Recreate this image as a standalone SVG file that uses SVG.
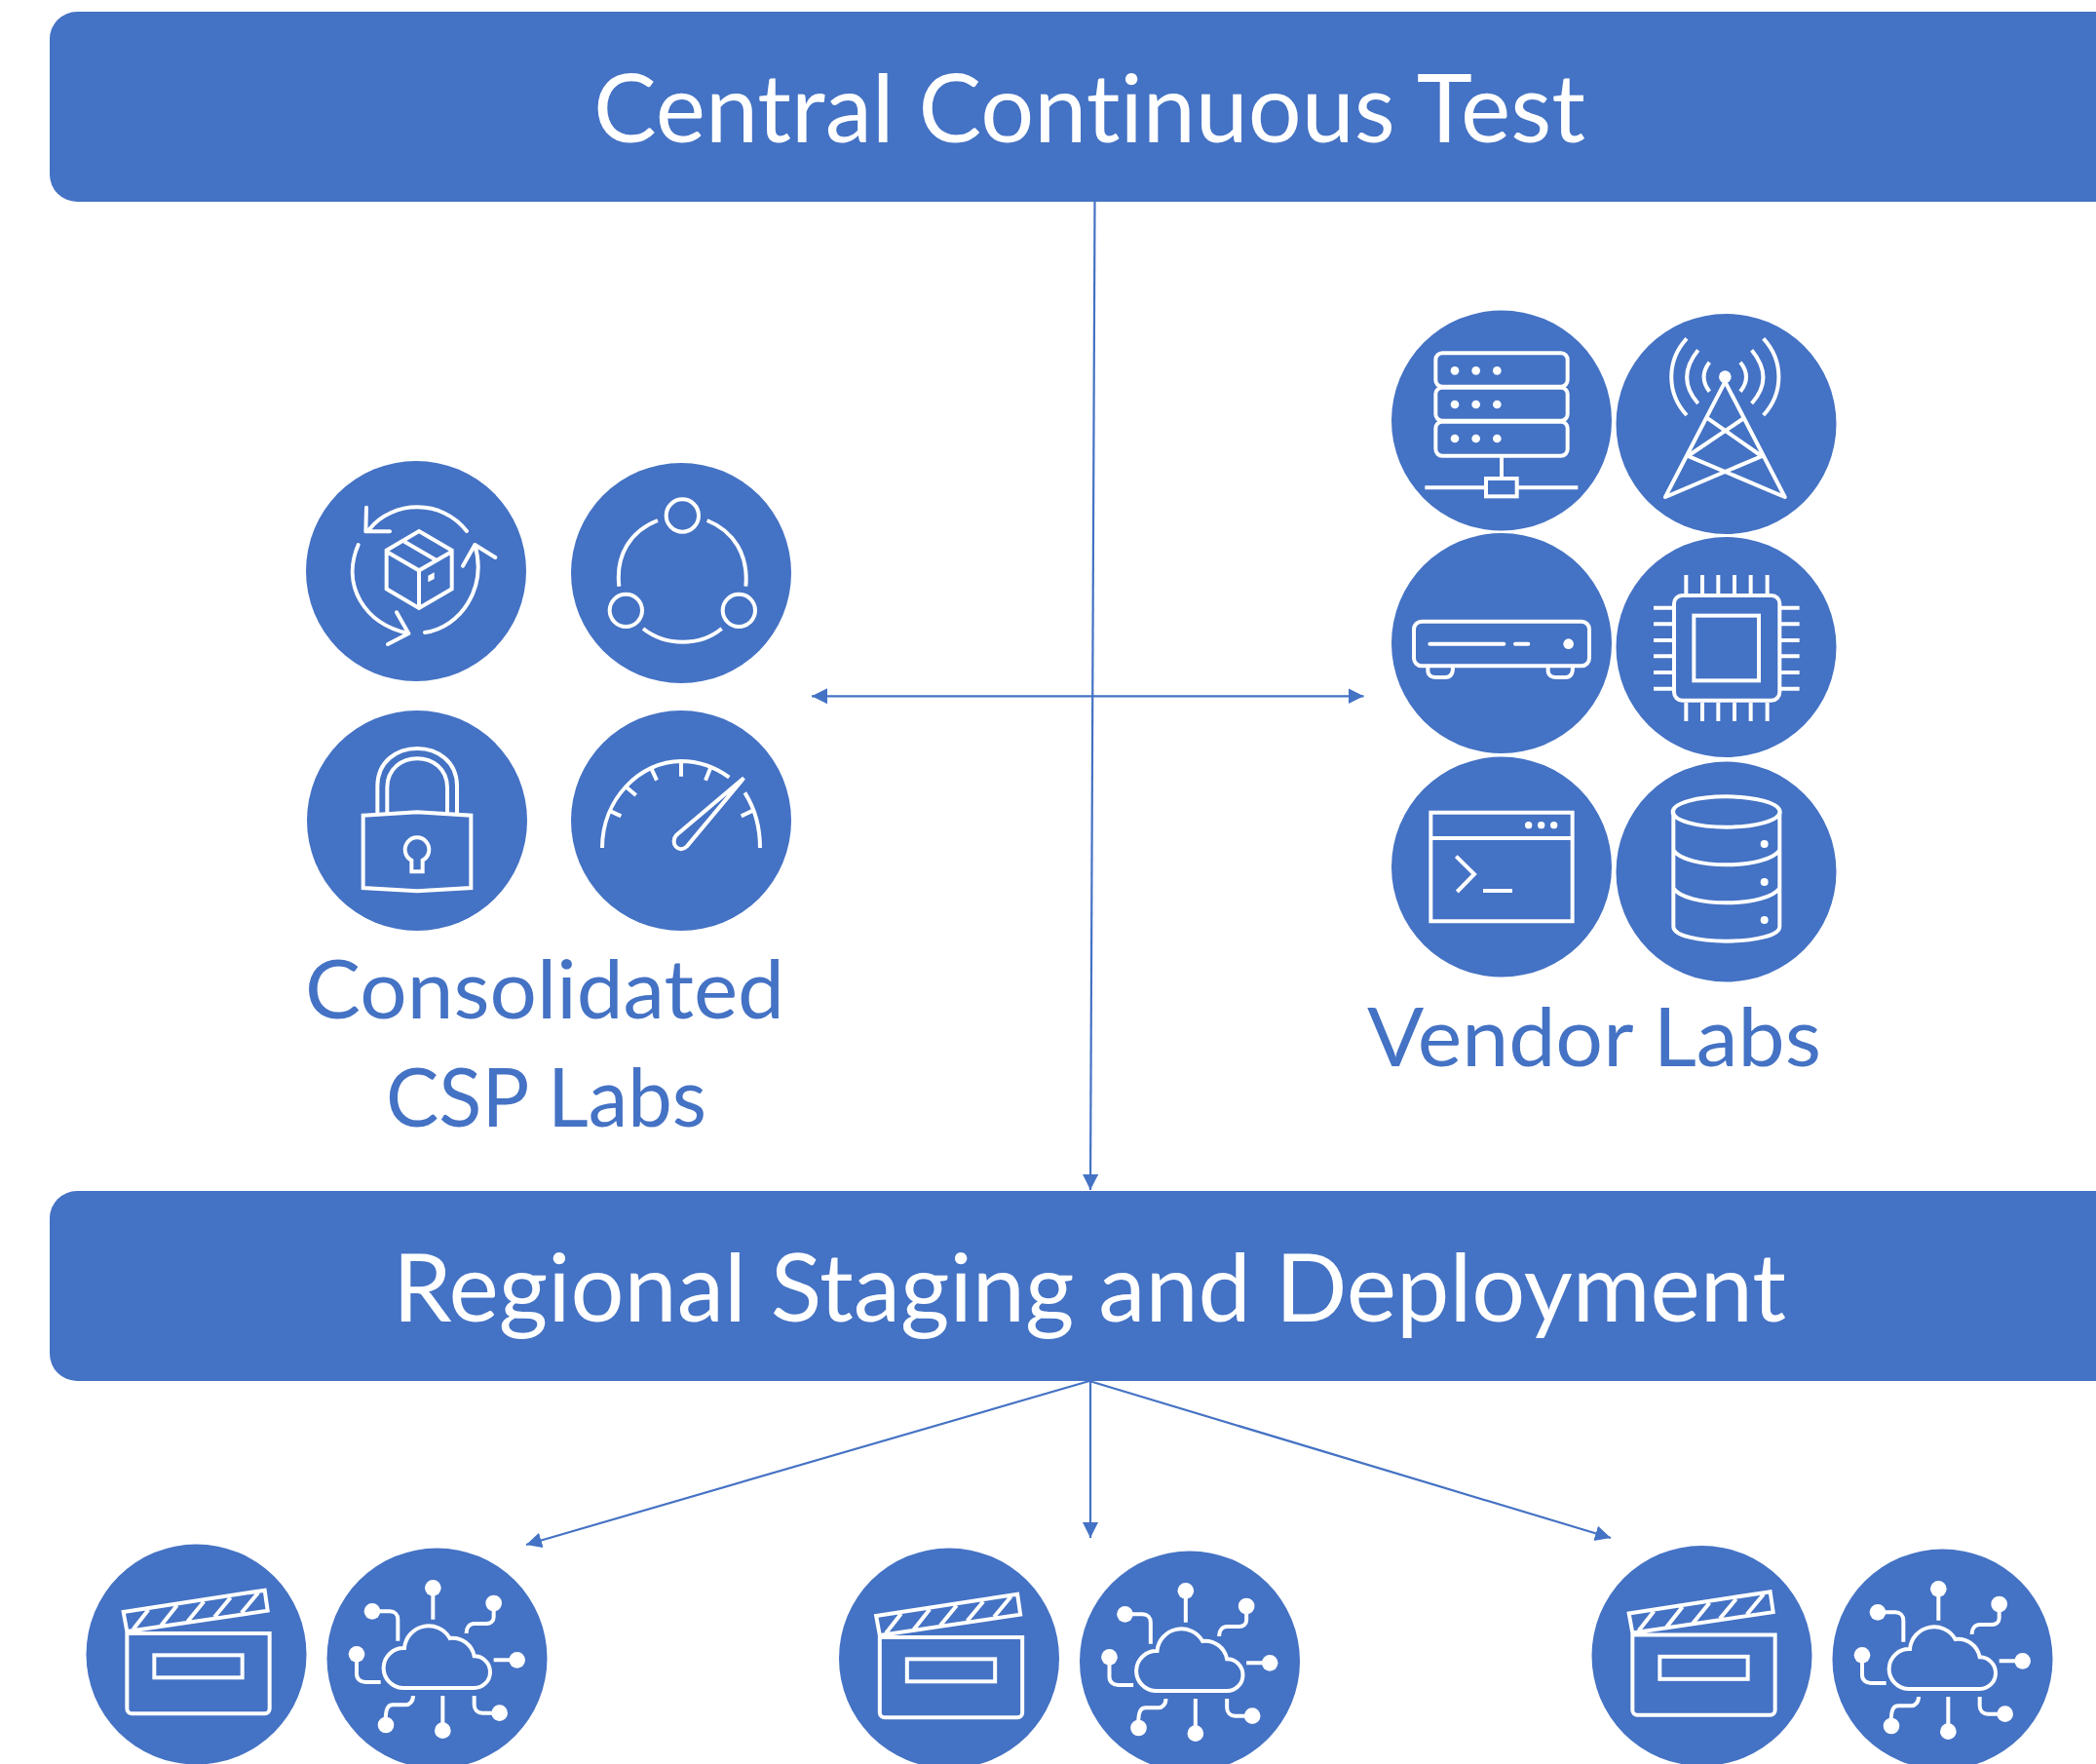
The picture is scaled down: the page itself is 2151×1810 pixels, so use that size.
<svg xmlns="http://www.w3.org/2000/svg" width="2151" height="1810" viewBox="0 0 2151 1810">
<style>
.bar{fill:#4472C4}
.c{fill:#4472C4}
.i{fill:none;stroke:#fff;stroke-width:12;stroke-linecap:butt;stroke-linejoin:miter}
.r{stroke-linecap:round;stroke-linejoin:round}
.w{fill:#fff;stroke:none}
.t{font-family:Lato,"Liberation Sans",sans-serif;font-variant-ligatures:none}
.bt{font-size:96px;fill:#fff}
.lb{font-size:84px;fill:#4472C4}
.ln{fill:none;stroke:#4472C4;stroke-width:2.2}
</style>
<defs>
<marker id="a" markerUnits="userSpaceOnUse" markerWidth="18" markerHeight="18" refX="16" refY="8" orient="auto-start-reverse"><path d="M0,0L16,8L0,16Z" fill="#4472C4"/></marker>
<g id="clap"><g transform="scale(.33333)">
<path class="i" d="M170,252L605,185L614,248L181,312ZM200,305L247,245M285,295L335,232M367,282L418,220M450,268L500,208M533,255L585,193M181,318H620V550a15,15 0 0 1 -15,15H196a15,15 0 0 1 -15,-15Z"/>
<rect class="i" x="265" y="385" width="271" height="69"/></g></g>
<g id="cloud"><g transform="scale(.33333)">
<path class="i" d="M1035,360A75,75 0 0 1 1175,330A68,68 0 0 1 1250,385A49,49 0 0 1 1250,483H1030A61.500,61.500 0 0 1 1035,360ZM1123,180V272M950,247H990C1005,247 1015,257 1015,272V338M1310,230V265C1310,278 1300,285 1288,285H1250C1235,285 1225,298 1226,315M1310,397H1370M888,390V440C888,455 900,465 915,465H962M1250,507V535C1250,550 1260,560 1275,560H1315M1153,507V600M1062,507C1062,525 1050,535 1040,535H1000C985,535 977,545 977,585"/>
<g class="w"><circle cx="1123" cy="175" r="25"/><circle cx="936" cy="247" r="25"/><circle cx="1310" cy="222" r="25"/><circle cx="1382" cy="397" r="25"/><circle cx="888" cy="379" r="25"/><circle cx="1328" cy="560" r="25"/><circle cx="1153" cy="614" r="25"/><circle cx="978" cy="597" r="25"/></g></g></g>
</defs>

<g id="bar-central"><rect class="bar" x="51" y="12" width="2140" height="195" rx="28"/><text class="t bt" x="609" y="146" textLength="1018" lengthAdjust="spacingAndGlyphs">Central Continuous Test</text></g>
<g id="bar-regional"><rect class="bar" x="51" y="1222" width="2140" height="195" rx="28"/><text class="t bt" x="403" y="1356" textLength="1430" lengthAdjust="spacingAndGlyphs">Regional Staging and Deployment</text></g>

<g id="connectors">
<path class="ln" d="M1123.5,207L1119,1221" marker-end="url(#a)"/>
<path class="ln" d="M833,714.3H1399.5" marker-start="url(#a)" marker-end="url(#a)"/>
<path class="ln" d="M1118,1417L540,1585" marker-end="url(#a)"/>
<path class="ln" d="M1119,1417V1578" marker-end="url(#a)"/>
<path class="ln" d="M1118,1417L1653,1578" marker-end="url(#a)"/>
</g>

<g id="csp-cycle"><circle class="c" cx="427" cy="586" r="113"/><g transform="translate(300,460) scale(.33333)">
<path class="i r" d="M238,248C310,160 460,155 537,255M228,182L226,256H300M562,297C600,430 520,550 408,567M525,362L562,297L625,336M203,297C150,420 220,540 358,570M321,505L358,570L294,603"/>
<path class="i" d="M390,255L491,314V433L390,492L290,433V314ZM290,318L390,376L491,318M390,376V492M345,287L443,344"/><path class="w" d="M418,392L437,382V402L418,412Z"/></g></g>
<g id="csp-share"><circle class="c" cx="699" cy="588" r="113"/><g transform="translate(300,460) scale(.33333)">
<circle class="i" cx="1201" cy="207" r="50"/><circle class="i" cx="1027" cy="499" r="50"/><circle class="i" cx="1375" cy="499" r="50"/>
<path class="i" d="M1125,222C1040,255 995,330 1006,425M1277,222C1360,255 1405,330 1396,425M1080,555C1150,610 1255,610 1322,555"/></g></g>
<g id="csp-lock"><circle class="c" cx="428" cy="842" r="113"/><g transform="translate(300,460) scale(.33333)">
<path class="i" d="M262,1122V1040C262,885 507,885 507,1040V1125M292,1120V1045C292,925 477,925 477,1045V1120M218,1130L384,1120L550,1130V1353L384,1363L218,1353ZM367,1268A37,37 0 1 1 401,1268V1303H367Z"/></g></g>
<g id="csp-gauge"><circle class="c" cx="699" cy="842" r="113"/><g transform="translate(300,460) scale(.33333)">
<path class="i" d="M954,1230C954,1080 1070,963 1197,963C1250,963 1300,980 1345,1013M1393,1060C1425,1110 1440,1165 1440,1230M975,1115L1012,1132M1025,1040L1058,1068M1105,985L1122,1022M1197,965V1010M1287,985L1272,1022M1418,1115L1382,1132M1390,1015L1183,1190C1160,1215 1190,1250 1215,1225Z"/></g></g>
<g id="label-csp"><text class="t lb" x="313" y="1045" textLength="492" lengthAdjust="spacingAndGlyphs">Consolidated</text><text class="t lb" x="396" y="1156" textLength="329" lengthAdjust="spacingAndGlyphs">CSP Labs</text></g>

<g id="vendor-server"><circle class="c" cx="1541" cy="431.500" r="113"/><g transform="translate(1410,310) scale(.33333)">
<rect class="i" x="190" y="157" width="406" height="103" rx="20"/><rect class="i" x="190" y="263" width="406" height="102" rx="20"/><rect class="i" x="190" y="368" width="406" height="105" rx="20"/>
<g class="w"><circle cx="249" cy="211" r="13"/><circle cx="314" cy="211" r="13"/><circle cx="379" cy="211" r="13"/><circle cx="249" cy="315" r="13"/><circle cx="314" cy="315" r="13"/><circle cx="379" cy="315" r="13"/><circle cx="249" cy="420" r="13"/><circle cx="314" cy="420" r="13"/><circle cx="379" cy="420" r="13"/></g>
<path class="i" d="M393,473V545M157,571H345M440,571H628"/><rect class="i" x="345" y="543" width="95" height="55"/></g></g>
<g id="vendor-tower"><circle class="c" cx="1771.500" cy="435" r="113"/><g transform="translate(1410,310) scale(.33333)">
<circle class="w" cx="1081" cy="230" r="19"/>
<path class="i r" d="M1081,245L897,600L1192,475M1081,245L1265,600L970,475M975,468L1135,360M1185,468L1028,358"/>
<path class="i" d="M1033,185C1010,215 1010,245 1033,275M1128,185C1152,215 1152,245 1128,275M998,148C952,205 952,260 998,312M1163,148C1210,205 1210,260 1163,312M963,112C900,180 900,280 963,348M1199,112C1262,180 1262,280 1199,348"/></g></g>
<g id="vendor-router"><circle class="c" cx="1541" cy="660" r="113"/><g transform="translate(1410,310) scale(.33333)">
<rect class="i" x="123" y="983" width="540" height="137" rx="24"/><path class="i r" d="M172,1052H400M435,1052H475"/><circle class="w" cx="599" cy="1052" r="16"/>
<path class="i" d="M166,1125V1135C166,1150 180,1155 190,1155H220C235,1155 243,1145 243,1125M536,1125V1135C536,1150 550,1155 560,1155H590C605,1155 612,1145 612,1125"/></g></g>
<g id="vendor-chip"><circle class="c" cx="1771.500" cy="664" r="113"/><g transform="translate(1410,310) scale(.33333)">
<rect class="i" x="924" y="903" width="325" height="323" rx="25"/><rect class="i" x="985" y="965" width="200" height="200"/>
<path class="i" d="M961,840V900M1011,840V900M1060,840V900M1110,840V900M1160,840V900M1211,840V900M961,1232V1290M1011,1232V1290M1060,1232V1290M1110,1232V1290M1160,1232V1290M1211,1232V1290M861,941H920M861,991H920M861,1041H920M861,1090H920M861,1140H920M861,1190H920M1253,941H1310M1253,991H1310M1253,1041H1310M1253,1090H1310M1253,1140H1310M1253,1190H1310"/></g></g>
<g id="vendor-terminal"><circle class="c" cx="1541" cy="889.500" r="113"/><g transform="translate(1410,770) scale(.33333)">
<path class="i" d="M175,191H611V526H175ZM175,270H611M253,326L309,381L256,435M336,432H426"/>
<g class="w"><circle cx="476" cy="230" r="11"/><circle cx="515" cy="230" r="11"/><circle cx="554" cy="230" r="11"/></g></g></g>
<g id="vendor-db"><circle class="c" cx="1771.500" cy="894.500" r="113"/><g transform="translate(1410,770) scale(.33333)">
<ellipse class="i" cx="1085" cy="189" rx="165" ry="47"/>
<path class="i" d="M922,189V542C922,570 1000,587 1085,587C1170,587 1249,570 1249,542V189M922,307C940,335 1010,352 1085,352C1160,352 1230,335 1249,307M922,424C940,452 1010,469 1085,469C1160,469 1230,452 1249,424"/>
<g class="w"><circle cx="1202" cy="288" r="12"/><circle cx="1202" cy="405" r="12"/><circle cx="1202" cy="522" r="12"/></g></g></g>
<g id="label-vendor"><text class="t lb" x="1403" y="1094" textLength="466" lengthAdjust="spacingAndGlyphs">Vendor Labs</text></g>

<g id="region-1-clapper"><circle class="c" cx="201.500" cy="1697.500" r="113"/><use href="#clap" transform="translate(70,1570)"/></g>
<g id="region-1-cloud"><circle class="c" cx="448.500" cy="1701.500" r="113"/><use href="#cloud" transform="translate(70,1571)"/></g>
<g id="region-2-clapper"><circle class="c" cx="974" cy="1701.500" r="113"/><use href="#clap" transform="translate(842.500,1574)"/></g>
<g id="region-2-cloud"><circle class="c" cx="1221" cy="1704.500" r="113"/><use href="#cloud" transform="translate(842.500,1574)"/></g>
<g id="region-3-clapper"><circle class="c" cx="1746.500" cy="1699" r="113"/><use href="#clap" transform="translate(1615,1571.500)"/></g>
<g id="region-3-cloud"><circle class="c" cx="1993.500" cy="1702.500" r="113"/><use href="#cloud" transform="translate(1615,1572)"/></g>
</svg>
